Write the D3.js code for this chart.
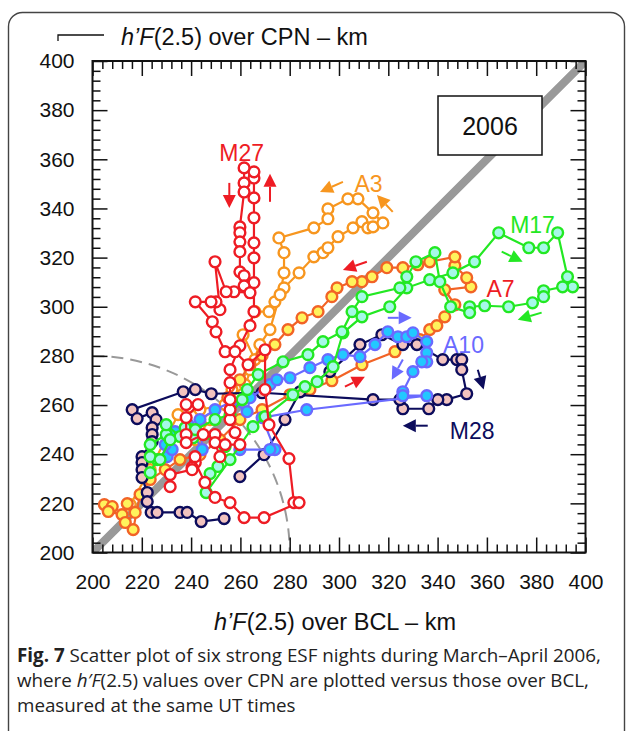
<!DOCTYPE html>
<html><head><meta charset="utf-8">
<script src="https://cdn.jsdelivr.net/npm/d3@7"></script>
<style>
html,body{margin:0;padding:0;background:#fff;}
svg{display:block;}
</style></head><body>
<svg id="fig" width="627" height="731"></svg>
<script>
// h'F(2.5) pairs [BCL km, CPN km] for each night, in UT order
const nightM27 = [[238.0,260.2],[242.8,260.2],[238.0,254.9],[238.0,248.0],[238.0,244.7],[244.9,248.0],[249.7,248.0],[249.7,244.7],[251.7,239.0],[253.8,243.9],[259.8,243.9],[257.8,248.8],[255.8,254.1],[255.8,258.1],[255.8,262.2],[255.8,269.1],[255.8,274.4],[259.8,284.1],[263.9,292.3],[265.5,298.0],[265.5,309.8],[265.5,319.9],[265.5,326.0],[265.5,336.2],[265.5,344.3],[265.5,352.4],[265.5,354.9],[261.5,356.5],[261.5,350.4],[261.5,346.7],[259.8,332.5],[259.8,330.1],[259.8,326.4],[259.8,322.4],[259.8,314.2],[261.5,312.6],[261.5,308.5],[263.9,305.7],[257.4,306.1],[254.2,306.1],[249.7,318.3],[251.7,298.8],[250.1,302.0],[248.1,302.0],[241.7,302.0],[248.6,293.9],[250.1,289.8],[253.8,281.7],[257.8,281.7],[263.1,276.4],[270.0,282.5],[270.0,266.3],[271.6,252.0],[279.7,238.2],[281.7,220.3],[283.8,220.3],[269.6,214.2],[261.5,214.2],[255.8,220.3],[249.7,222.4],[245.6,228.5],[241.7,236.6],[241.6,239.0],[240.4,234.6],[240.4,233.7],[231.5,231.7],[231.5,226.8]];
const nightA3 = [[215.3,219.5],[223.4,233.7],[234.7,256.1],[243.6,258.1],[253.8,260.2],[261.9,268.3],[265.9,278.5],[261.1,288.6],[265.9,298.0],[271.6,298.0],[274.0,302.0],[277.7,307.7],[283.8,313.8],[289.8,320.3],[293.5,322.0],[295.5,324.0],[299.6,328.5],[305.7,332.1],[309.3,334.6],[311.7,332.1],[313.8,332.5],[317.8,334.1],[313.8,338.2],[307.7,343.9],[303.6,343.9],[295.5,339.8],[295.5,335.8],[289.8,332.1],[275.6,328.0],[277.7,322.0],[277.7,313.8],[276.1,304.9],[272.0,290.7],[267.9,284.6],[263.9,274.4],[256.6,266.3],[247.7,254.1],[241.7,245.9]];
const nightA7 = [[204.8,219.5],[208.0,218.7],[206.4,216.7],[212.0,215.4],[214.1,219.9],[217.3,216.3],[213.3,212.2],[216.5,209.3],[219.3,223.6],[223.4,229.7],[229.5,233.7],[235.5,237.8],[243.6,239.8],[251.7,245.9],[259.8,254.1],[268.8,258.1],[280.1,264.2],[288.2,266.3],[297.1,269.9],[309.3,276.4],[322.7,281.7],[332.8,286.6],[336.8,290.7],[339.7,292.3],[342.9,295.9],[347.0,300.8],[342.9,306.9],[353.5,308.1],[351.8,311.8],[347.0,316.7],[347.0,320.3],[336.8,318.3],[332.0,317.1],[325.9,315.9],[319.4,315.9],[313.4,312.2],[309.3,310.2],[305.3,310.2],[299.2,307.7],[297.1,304.1],[291.5,298.0],[285.0,295.5],[279.3,290.7],[274.0,284.6],[268.8,280.1],[263.9,276.4],[259.8,270.3],[254.9,263.0]];
const nightM17 = [[223.4,232.5],[226.2,237.8],[223.4,239.0],[223.4,243.9],[229.9,248.0],[229.9,252.0],[235.5,247.2],[239.6,250.0],[240.8,246.7],[237.6,250.8],[253.8,243.1],[250.9,235.0],[247.7,232.1],[246.1,224.4],[255.8,237.8],[265.1,251.2],[270.0,255.3],[281.3,264.2],[286.2,267.5],[291.1,269.5],[297.6,275.6],[301.6,289.4],[309.3,295.9],[320.6,300.0],[327.5,307.7],[336.8,311.0],[346.2,313.8],[355.0,318.3],[364.8,330.1],[377.0,324.0],[383.0,324.0],[388.7,330.1],[392.7,312.2],[394.8,308.1],[390.7,308.1],[383.0,306.5],[383.0,304.1],[378.5,301.6],[368.8,300.0],[359.1,300.4],[353.0,300.0],[353.0,297.6],[345.3,300.0],[340.9,310.2],[338.9,322.0],[331.2,318.3],[327.5,312.2],[324.7,307.7],[309.3,304.1],[305.3,298.0],[301.2,289.8],[293.5,285.8],[287.4,280.5],[277.3,277.6],[267.2,272.4],[262.8,266.3],[260.7,262.2],[255.8,256.1],[249.7,254.1],[241.7,250.0],[231.5,245.9],[227.4,237.8]];
const nightA10 = [[230.3,239.0],[232.3,241.9],[229.5,243.9],[233.5,249.2],[238.8,252.0],[244.5,241.9],[243.6,254.1],[249.7,258.1],[256.6,261.4],[262.7,257.3],[263.9,263.0],[272.0,268.3],[274.8,270.3],[280.1,271.1],[288.2,275.2],[295.5,278.5],[301.6,280.5],[308.5,279.7],[314.6,284.6],[319.8,289.8],[323.9,287.8],[327.5,287.8],[330.0,289.4],[335.6,285.8],[335.6,281.3],[335.6,277.6],[333.6,277.6],[330.0,273.6],[325.9,265.4],[325.9,263.8],[335.6,263.8],[286.9,258.1],[268.8,254.9],[274.0,241.9],[272.0,241.9],[259.8,241.9]];
const nightM28 = [[259.8,230.9],[269.6,239.8],[278.1,254.1],[284.2,265.4],[296.3,273.6],[308.5,284.6],[317.4,288.6],[325.9,284.6],[331.6,284.6],[342.1,278.5],[347.8,278.5],[349.8,278.5],[349.8,274.4],[351.8,264.6],[343.7,262.2],[340.1,262.2],[336.4,258.5],[325.9,258.5],[324.7,262.2],[313.8,262.2],[268.8,265.0],[248.2,264.6],[241.7,266.3],[236.8,265.4],[216.1,258.1],[218.1,254.5],[224.2,256.9],[225.8,254.1],[224.2,250.8],[224.2,248.0],[224.2,245.1],[220.1,239.0],[220.1,236.6],[220.1,233.7],[220.1,230.5],[222.2,224.4],[222.2,220.7],[223.8,216.3],[226.2,216.3],[235.5,216.3],[238.4,216.3],[244.1,212.6],[253.4,213.8]];

const nightNames = ["A3","A7","M28","A10","M17","M27"];
const majorTicks = [200,220,240,260,280,300,320,340,360,380,400];
const minorTicks = d3.range(200,401,4);

const svg = d3.select("#fig");
svg.append("rect").attr("width",627).attr("height",731).attr("fill","#fff");

// outer figure panel
svg.append("rect").attr("x",8.5).attr("y",12.5).attr("width",616).attr("height",760)
  .attr("rx",14).attr("fill","none").attr("stroke","#444").attr("stroke-width",1.4);

const L = 92.5, R = 585.5, T = 61, B = 552.5;
const x = d3.scaleLinear().domain([200,400]).range([L,R]);
const y = d3.scaleLinear().domain([200,400]).range([B,T]);

svg.append("defs").append("clipPath").attr("id","plotclip")
  .append("rect").attr("x",L).attr("y",T).attr("width",R-L).attr("height",B-T);

// equal-height diagonal
svg.append("line").attr("clip-path","url(#plotclip)")
  .attr("x1",x(200)).attr("y1",y(200)).attr("x2",x(400)).attr("y2",y(400))
  .attr("stroke","#999").attr("stroke-width",8).attr("stroke-linecap","square");

// 80 km radius arc about the origin
svg.append("path")
  .attr("d",`M${x(200)},${y(280)} A${x(280)-x(200)},${y(200)-y(280)} 0 0 1 ${x(280)},${y(200)}`)
  .attr("fill","none").attr("stroke","#999").attr("stroke-width",2).attr("stroke-dasharray","12,7");

// year box
svg.append("rect").attr("x",438).attr("y",96).attr("width",104).attr("height",59)
  .attr("fill","#fff").attr("stroke","#111").attr("stroke-width",1.5);
svg.append("text").attr("x",490).attr("y",135).attr("text-anchor","middle")
  .attr("font-family","Liberation Sans, Arial, sans-serif").attr("font-size",25).attr("fill","#111").text("2006");

// axes with inward ticks
function styleAxis(g){ g.select(".domain").remove(); g.selectAll(".tick line").attr("stroke","#111").attr("stroke-width",1.5); }
const font = "Liberation Sans, Arial, sans-serif";
const gB = svg.append("g").attr("transform",`translate(0,${B})`)
  .call(d3.axisBottom(x).tickValues(majorTicks).tickSize(-15).tickPadding(22).tickFormat(d3.format("d")));
const gL = svg.append("g").attr("transform",`translate(${L},0)`)
  .call(d3.axisLeft(y).tickValues(majorTicks).tickSize(-15).tickPadding(18).tickFormat(d3.format("d")));
[gB,gL].forEach(g=>{ styleAxis(g); g.selectAll("text").attr("font-family",font).attr("font-size",21).attr("fill","#111"); });
const gT = svg.append("g").attr("transform",`translate(0,${T})`).call(d3.axisTop(x).tickValues(majorTicks).tickSize(-15).tickFormat(""));
const gR = svg.append("g").attr("transform",`translate(${R},0)`).call(d3.axisRight(y).tickValues(majorTicks).tickSize(-15).tickFormat(""));
[gT,gR].forEach(styleAxis);
const minor = minorTicks.filter(v=>!majorTicks.includes(v));
[[d3.axisBottom(x),`translate(0,${B})`],[d3.axisTop(x),`translate(0,${T})`],
 [d3.axisLeft(y),`translate(${L},0)`],[d3.axisRight(y),`translate(${R},0)`]].forEach(([ax,tr])=>{
  const g = svg.append("g").attr("transform",tr).call(ax.tickValues(minor).tickSize(-8).tickFormat(""));
  styleAxis(g);
});
svg.append("rect").attr("x",L).attr("y",T).attr("width",R-L).attr("height",B-T)
  .attr("fill","none").attr("stroke","#111").attr("stroke-width",2);

// series
const nights = {
  A3:  {data:nightA3,  stroke:"#f7961f", fill:"#ffffff"},
  A7:  {data:nightA7,  stroke:"#f26326", fill:"#fff35c"},
  M28: {data:nightM28, stroke:"#0c0c5c", fill:"#f2c3bf"},
  A10: {data:nightA10, stroke:"#6a6aff", fill:"#22c8ff"},
  M17: {data:nightM17, stroke:"#23e823", fill:"#a6f8e8"},
  M27: {data:nightM27, stroke:"#ee1c24", fill:"#ffffff"}
};
const line = d3.line().x(d=>x(d[0])).y(d=>y(d[1]));
nightNames.forEach(n=>{
  const s = nights[n];
  const g = svg.append("g").attr("clip-path","url(#plotclip)");
  g.append("path").attr("d",line(s.data)).attr("fill","none").attr("stroke",s.stroke).attr("stroke-width",2.2);
  g.selectAll("circle").data(s.data).join("circle")
    .attr("cx",d=>x(d[0])).attr("cy",d=>y(d[1])).attr("r",5.4)
    .attr("fill",s.fill).attr("stroke",s.stroke).attr("stroke-width",2.4);
});

// direction arrows [from, to] in km
const arrows = [
  {c:"#ee1c24", a:[255.5,350.4], b:[255.5,340.2]},
  {c:"#ee1c24", a:[272.0,342.7], b:[272.0,354.1]},
  {c:"#f7961f", a:[301.6,350.8], b:[292.3,346.7]},
  {c:"#f7961f", a:[321.8,338.6], b:[315.4,345.5]},
  {c:"#ee1c24", a:[311.3,318.3], b:[301.6,315.0]},
  {c:"#ee1c24", a:[302.4,267.5], b:[310.5,271.5]},
  {c:"#23e823", a:[366.0,322.4], b:[374.5,318.3]},
  {c:"#23e823", a:[382.2,297.6], b:[372.5,294.7]},
  {c:"#6a6aff", a:[319.8,295.5], b:[329.5,295.5]},
  {c:"#6a6aff", a:[325.9,278.5], b:[321.4,270.3]},
  {c:"#0c0c5c", a:[356.3,274.4], b:[358.7,266.3]},
  {c:"#0c0c5c", a:[336.0,251.6], b:[325.9,251.6]}
];
arrows.forEach(ar=>{
  const x1=x(ar.a[0]), y1=y(ar.a[1]), x2=x(ar.b[0]), y2=y(ar.b[1]);
  const ang=Math.atan2(y2-y1,x2-x1), hl=13, hw=6.5;
  const bx=x2-hl*Math.cos(ang), by=y2-hl*Math.sin(ang);
  svg.append("line").attr("x1",x1).attr("y1",y1).attr("x2",bx).attr("y2",by)
    .attr("stroke",ar.c).attr("stroke-width",2);
  const px=-Math.sin(ang)*hw, py=Math.cos(ang)*hw;
  svg.append("path").attr("d",`M${x2},${y2}L${bx+px},${by+py}L${bx-px},${by-py}Z`).attr("fill",ar.c);
});

// night labels
const labels = [
  {t:"M27", c:"#ee1c24", p:[260.5,359.5]},
  {t:"A3",  c:"#f7961f", p:[312.0,346.5]},
  {t:"M17", c:"#23e823", p:[378.5,330.0]},
  {t:"A7",  c:"#ee1c24", p:[365.5,304.0]},
  {t:"A10", c:"#6a6aff", p:[350.5,281.0]},
  {t:"M28", c:"#0c0c5c", p:[354.0,246.0]}
];
labels.forEach(l=>{
  svg.append("text").attr("x",x(l.p[0])).attr("y",y(l.p[1])).attr("text-anchor","middle")
    .attr("font-family",font).attr("font-size",23).attr("fill",l.c).text(l.t);
});

// axis titles
const yt = svg.append("text").attr("x",121).attr("y",45).attr("font-family",font).attr("font-size",23.5).attr("fill","#111");
yt.append("tspan").attr("font-style","italic").text("h’F");
yt.append("tspan").text("(2.5) over CPN – km");
svg.append("path").attr("d","M58,41V35H104").attr("fill","none").attr("stroke","#111").attr("stroke-width",1.3);
const xt = svg.append("text").attr("x",335).attr("y",630).attr("text-anchor","middle").attr("font-family",font).attr("font-size",23.5).attr("fill","#111");
xt.append("tspan").attr("font-style","italic").text("h’F");
xt.append("tspan").text("(2.5) over BCL – km");

// caption
const cf = "Open Sans, sans-serif";
const c1 = svg.append("text").attr("x",17).attr("y",662).attr("font-family",cf).attr("font-size",18.8).attr("fill","#222");
c1.append("tspan").attr("font-weight","bold").text("Fig. 7");
c1.append("tspan").text(" Scatter plot of six strong ESF nights during March–April 2006,");
const c2 = svg.append("text").attr("x",17).attr("y",687).attr("font-family",cf).attr("font-size",18.8).attr("fill","#222");
c2.append("tspan").text("where ");
c2.append("tspan").attr("font-style","italic").text("h′F");
c2.append("tspan").text("(2.5) values over CPN are plotted versus those over BCL,");
svg.append("text").attr("x",17).attr("y",712).attr("font-family",cf).attr("font-size",18.8).attr("fill","#222")
  .text("measured at the same UT times");
</script>
</body></html>
